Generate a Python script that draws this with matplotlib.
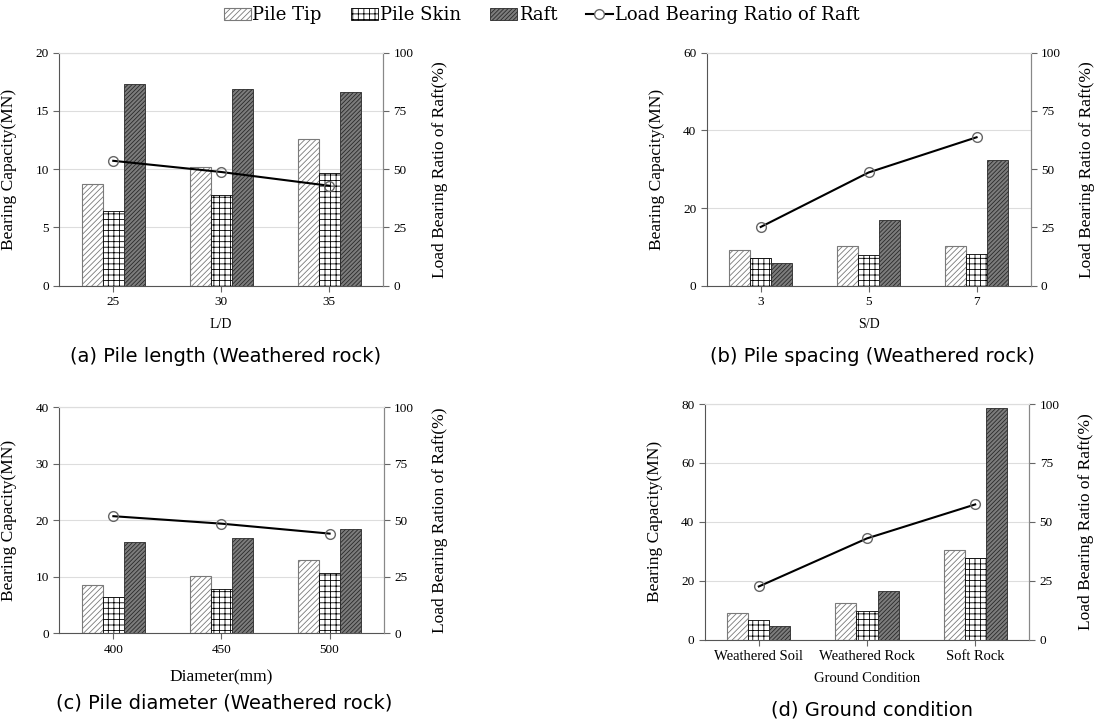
import matplotlib
matplotlib.use("Agg")
import matplotlib.pyplot as plt
from matplotlib.patches import Patch
from matplotlib.lines import Line2D
import numpy as np

plt.rcParams['font.family'] = ['Liberation Serif', 'DejaVu Serif']
plt.rcParams['hatch.linewidth'] = 0.6

# (a) pile length
ld_labels = ['25', '30', '35']
ld_tip = [8.7, 10.15, 12.6]
ld_skin = [6.45, 7.8, 9.65]
ld_raft = [17.35, 16.9, 16.65]
ld_ratio = [53.6, 48.8, 42.9]

# (b) pile spacing
sd_labels = ['3', '5', '7']
sd_tip = [9.3, 10.1, 10.3]
sd_skin = [7.2, 7.8, 8.1]
sd_raft = [5.75, 16.8, 32.4]
sd_ratio = [25.2, 48.6, 63.7]

# (c) pile diameter
dia_labels = ['400', '450', '500']
dia_tip = [8.6, 10.2, 12.9]
dia_skin = [6.5, 7.85, 10.6]
dia_raft = [16.1, 16.9, 18.4]
dia_ratio = [51.8, 48.5, 44.1]

# (d) ground condition
gc_labels = ['Weathered Soil', 'Weathered Rock', 'Soft Rock']
gc_tip = [9.05, 12.6, 30.5]
gc_skin = [6.8, 9.7, 27.6]
gc_raft = [4.5, 16.7, 78.5]
gc_ratio = [22.6, 43.0, 57.4]

fig = plt.figure(figsize=(10.94, 7.24), dpi=100)

W = 0.195
tip_style = dict(facecolor='white', edgecolor='#7a7a7a', hatch='//////', linewidth=0.8)
skin_style = dict(facecolor='white', edgecolor='black', hatch='+++', linewidth=0.6)
raft_style = dict(facecolor='#7c7c7c', edgecolor='#2a2a2a', hatch='////////', linewidth=0.6)


def panel(rect, labels, tip, skin, raft, ratio, ymax, ystep, xlabel, xlsize,
          xly, rlabel, caption, cap_xy):
    ax = fig.add_axes(rect)
    x = np.arange(len(labels))
    ax.bar(x - W, tip, W, **tip_style)
    ax.bar(x, skin, W, **skin_style)
    ax.bar(x + W, raft, W, **raft_style)
    ax.set_xlim(-0.5, 2.5)
    ax.set_ylim(0, ymax)
    ax.set_yticks(np.arange(0, ymax + 1, ystep))
    ax.set_xticks(x)
    ax.set_xticklabels(labels)
    ax.yaxis.grid(True, color='#dddddd', linewidth=0.8)
    ax.set_axisbelow(True)
    ax.tick_params(axis='both', direction='out', length=4, labelsize=9.5,
                   color='#666666')
    ax.tick_params(axis='x', labelsize=10.5 if len(labels[0]) > 3 else 9.5)
    for s in ['left', 'bottom']:
        ax.spines[s].set_color('#555555')
    ax.spines['top'].set_color('#dddddd')
    ax.spines['right'].set_color('#888888')
    ax.set_ylabel('Bearing Capacity(MN)', fontsize=12.5)
    ax.yaxis.set_label_coords(-0.13, 0.5)
    ax.set_xlabel(xlabel, fontsize=xlsize)
    ax.xaxis.set_label_coords(0.5, xly)

    ax2 = ax.twinx()
    ax2.plot(x, ratio, color='black', linewidth=1.5, marker='o',
             markersize=7, markerfacecolor='none', markeredgecolor='#666666',
             markeredgewidth=1.0)
    ax2.set_ylim(0, 100)
    ax2.set_yticks([0, 25, 50, 75, 100])
    ax2.tick_params(axis='y', direction='out', length=4, labelsize=9.5,
                    color='#666666')
    ax2.spines['right'].set_color('#888888')
    ax2.spines['top'].set_color('#dddddd')
    ax2.spines['left'].set_visible(False)
    ax2.spines['bottom'].set_visible(False)
    ax2.set_ylabel(rlabel, fontsize=12.5)
    ax2.yaxis.set_label_coords(1.15, 0.5)

    fig.text(cap_xy[0], cap_xy[1], caption, ha='center', va='center',
             fontsize=14, family=['DejaVu Sans'])
    return ax


panel([0.0542, 0.6054, 0.296, 0.3218], ld_labels, ld_tip, ld_skin, ld_raft,
      ld_ratio, 20, 5, 'L/D', 10, -0.139, 'Load Bearing Ratio of Raft(%)',
      '(a) Pile length (Weathered rock)', (226 / 1094, 1 - 356 / 724))
panel([0.646, 0.6054, 0.296, 0.3218], sd_labels, sd_tip, sd_skin, sd_raft,
      sd_ratio, 60, 20, 'S/D', 10, -0.139, 'Load Bearing Ratio of Raft(%)',
      '(b) Pile spacing (Weathered rock)', (872 / 1094, 1 - 356 / 724))
panel([0.0542, 0.1253, 0.2965, 0.3122], dia_labels, dia_tip, dia_skin, dia_raft,
      dia_ratio, 40, 10, 'Diameter(mm)', 12.5, -0.158, 'Load Bearing Ration of Raft(%)',
      '(c) Pile diameter (Weathered rock)', (224 / 1094, 1 - 703 / 724))
panel([0.6442, 0.1164, 0.2966, 0.3255], gc_labels, gc_tip, gc_skin, gc_raft,
      gc_ratio, 80, 20, 'Ground Condition', 10.5, -0.137, 'Load Bearing Ratio of Raft(%)',
      '(d) Ground condition', (872 / 1094, 1 - 710 / 724))

handles = [Patch(**tip_style), Patch(**skin_style), Patch(**raft_style),
           Line2D([0], [0], color='black', linewidth=1.5, marker='o', markersize=7,
                  markerfacecolor='white', markeredgecolor='#666666')]
fig.legend(handles, ['Pile Tip', 'Pile Skin', 'Raft', 'Load Bearing Ratio of Raft'],
           loc='center', bbox_to_anchor=(0.495, 0.979), ncol=4, frameon=False,
           prop={'family': ['DejaVu Serif'], 'size': 13}, handlelength=1.5,
           handletextpad=0.1, columnspacing=1.6)

fig.savefig('out.png', dpi=100)
